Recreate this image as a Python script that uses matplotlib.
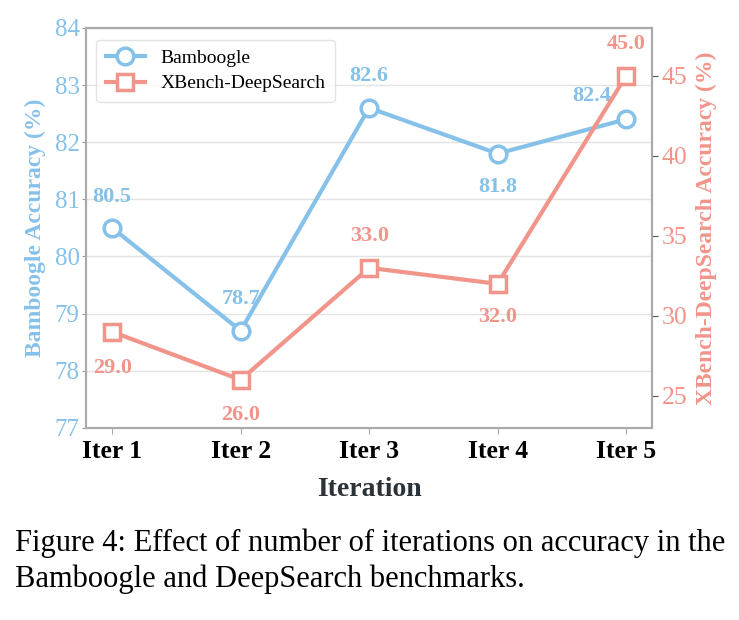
import matplotlib.pyplot as plt

plt.rcParams['font.family'] = ['Liberation Serif', 'DejaVu Serif']

iterations = ['Iter 1', 'Iter 2', 'Iter 3', 'Iter 4', 'Iter 5']
bamboogle = [80.5, 78.7, 82.6, 81.8, 82.4]
xbench = [29.0, 26.0, 33.0, 32.0, 45.0]

blue = '#85C1E9'
red = '#F1948A'

fig = plt.figure(figsize=(7.39, 6.2), dpi=100)
ax = fig.add_axes([0.117, 0.31, 0.765, 0.645])
ax2 = ax.twinx()

x = list(range(len(iterations)))
l1, = ax.plot(x, bamboogle, color=blue, lw=3, marker='o', ms=12,
              mfc='white', mec=blue, mew=2.5, label='Bamboogle', zorder=3)
l2, = ax2.plot(x, xbench, color=red, lw=3, marker='s', ms=12,
               mfc='white', mec=red, mew=2.5, label='XBench-DeepSearch', zorder=3)

ax.set_xlim(-0.2, 4.2)
ax.set_ylim(77, 84)
ax2.set_ylim(23, 48)
ax2.set_yticks([25, 30, 35, 40, 45])

ax.set_xticks(x)
ax.set_xticklabels(iterations, fontsize=18.5, fontweight='bold', color='black')
ax.tick_params(axis='x', length=4, color='#aaaaaa', pad=5)
ax.tick_params(axis='y', labelsize=18, labelcolor=blue, length=3, color='#999999', pad=2)
ax2.tick_params(axis='y', labelsize=18.5, labelcolor=red, length=4, color='#555555', pad=3)

ax.grid(axis='y', color='#e3e3e3', lw=1)
ax.set_axisbelow(True)
for a in (ax, ax2):
    for s in a.spines.values():
        s.set_color('#aaaaaa')
        s.set_linewidth(1.5)

ax.set_xlabel('Iteration', fontsize=20, fontweight='bold', color='#2c3338', labelpad=10)
ax.set_ylabel('Bamboogle Accuracy (%)', fontsize=17, fontweight='bold', color=blue, labelpad=6)
ax2.set_ylabel('XBench-DeepSearch Accuracy (%)', fontsize=17, fontweight='bold', color=red, labelpad=6)

# value labels
b_off = [(0, 22), (0, 23), (0, 23), (0, -24), (-25, 17)]
for xi, v, off in zip(x, bamboogle, b_off):
    ax.annotate(f'{v:.1f}', (xi, v), textcoords='offset points', xytext=off,
                ha='center', va='center', fontsize=16, fontweight='bold', color=blue)
r_off = [(0, -26), (0, -25), (0, 23), (0, -24), (0, 23)]
for xi, v, off in zip(x, xbench, r_off):
    ax2.annotate(f'{v:.1f}', (xi, v), textcoords='offset points', xytext=off,
                 ha='center', va='center', fontsize=16, fontweight='bold', color=red)

leg = ax.legend([l1, l2], ['Bamboogle', 'XBench-DeepSearch'], loc='upper left',
                fontsize=14, frameon=True, handlelength=2.0, borderpad=0.5,
                labelspacing=0.4, bbox_to_anchor=(0.0, 0.995))
leg.get_frame().set_edgecolor('#dddddd')
leg.get_frame().set_linewidth(1)

fig.text(0.02, 0.111, 'Figure 4: Effect of number of iterations on accuracy in the',
         fontsize=22, va='baseline', ha='left')
fig.text(0.02, 0.053, 'Bamboogle and DeepSearch benchmarks.',
         fontsize=22, va='baseline', ha='left')

fig.savefig('out.png', dpi=100)
